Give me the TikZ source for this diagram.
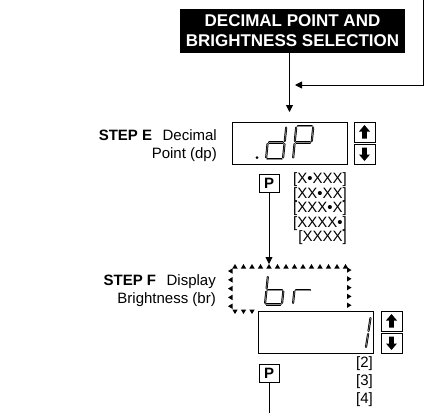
\documentclass[tikz,border=0pt]{standalone}
\usepackage{fontspec}
\setmainfont{Liberation Sans}
\usetikzlibrary{arrows.meta}
\begin{document}
\begin{tikzpicture}[x=1pt,y=-1pt,
  arr/.style={-{Triangle[length=7pt,width=7pt]}, line width=0.8pt},
  plain/.style={line width=0.8pt},
  dispbox/.style={draw, line width=0.8pt, minimum width=115pt, minimum height=42pt, inner sep=0pt, outer sep=0pt},
  btnbox/.style={draw, line width=0.8pt, minimum width=21pt, minimum height=20pt, inner sep=0pt, outer sep=0pt},
  pbox/.style={draw, line width=0.8pt, minimum width=20pt, minimum height=18pt, inner sep=0pt, outer sep=0pt, font=\fontsize{15}{15}\selectfont\bfseries},
  seg/.style={draw=black, double=black!45, double distance=0.6pt, line width=0.75pt, line cap=round},
  opt/.style={anchor=east, inner sep=0pt, font=\fontsize{15}{15}\selectfont},
  lbl/.style={anchor=east, align=right, inner sep=0pt, font=\fontsize{15}{18}\selectfont},
  banner/.style={fill=black, text=white, align=center, minimum width=225pt, minimum height=44pt, inner sep=0pt, outer sep=0pt, font=\fontsize{17}{20}\selectfont\bfseries},
  uparrow/.pic={\fill (-5.5,-0.5) -- (0,-7) -- (5.5,-0.5) -- (2.3,-0.5) -- (2.3,6.5) -- (-2.3,6.5) -- (-2.3,-0.5) -- cycle;},
  downarrow/.pic={\fill (-5.5,0.5) -- (0,7) -- (5.5,0.5) -- (2.3,0.5) -- (2.3,-6.5) -- (-2.3,-6.5) -- (-2.3,0.5) -- cycle;}
]
\useasboundingbox (0,0) rectangle (442,413);

% banner
\node[banner] (ban) at (292.5,31) {DECIMAL POINT AND\\BRIGHTNESS SELECTION};
\coordinate (feedtop) at (423,0);
\coordinate (join) at (295,85);
\draw[arr] (feedtop) |- (join);

% step E
\node[dispbox] (dp) at (289.5,143) {};
\draw[arr, shorten >=10pt] (dp.north |- ban.south) -- (dp.north);
\node[btnbox] (u1) at (364.5,132) {};
\node[btnbox] (d1) at (364.5,154) {};
\pic at (u1.center) {uparrow};
\pic at (d1.center) {downarrow};
\node[lbl] (lblE) at (217,146) {\textbf{STEP E}\hspace{0.7em}Decimal\\Point (dp)};

% .dP segments
\fill (257,157.5) circle (1.5);
\draw[seg] (286.2,127.5) -- (284.8,141);
\draw[seg] (284.5,144) -- (283.1,157.5);
\draw[seg] (267.5,159) -- (281.5,159);
\draw[seg] (267.5,144) -- (266.2,157.5);
\draw[seg] (269,142.5) -- (283,142.5);
\draw[seg] (297.8,126) -- (311.8,126);
\draw[seg] (313.2,127.5) -- (311.8,141);
\draw[seg] (296.2,127.5) -- (294.8,141);
\draw[seg] (294.5,144) -- (293.2,157.5);
\draw[seg] (296.2,142.5) -- (310.2,142.5);

\node[pbox] (p1) at (269,183) {P};
\node[opt] (o1) at (347,180) {[X•XXX]};
\node[opt] (o2) at (347,194.5) {[XX•XX]};
\node[opt] (o3) at (347,209) {[XXX•X]};
\node[opt] (o4) at (347,223.5) {[XXXX•]};
\node[opt] (o5) at (347,238) {[XXXX]};

% step F
\node[minimum width=118pt, minimum height=46pt, inner sep=0pt, outer sep=0pt] (brbox) at (290,287) {};
\draw[arr] (p1.south) -- (p1.south |- brbox.north);
\foreach \i in {0,...,13} {
  \fill ({235+8.5*\i-2.7},268.5) -- ({235+8.5*\i+2.7},268.5) -- ({235+8.5*\i},264) -- cycle;
}
\foreach \j in {0,...,4} {
  \fill (232.5,{271+8.8*\j-2.7}) -- (232.5,{271+8.8*\j+2.7}) -- (228,{271+8.8*\j}) -- cycle;
  \fill (347,{270+8.8*\j-2.7}) -- (347,{270+8.8*\j+2.7}) -- (351.5,{270+8.8*\j}) -- cycle;
}
\foreach \cx in {235,243.5,252} {
  \fill ({\cx-2.7},309.5) -- ({\cx+2.7},309.5) -- (\cx,314) -- cycle;
}
% br segments
\draw[seg] (267.8,277) -- (266.6,288.5);
\draw[seg] (266.3,291.5) -- (265.1,303);
\draw[seg] (266.5,304.5) -- (280.5,304.5);
\draw[seg] (283.3,291.5) -- (282.1,303);
\draw[seg] (268,290) -- (282,290);
\draw[seg] (294.3,291.5) -- (293.1,303);
\draw[seg] (296,290) -- (310,290);
\node[lbl] (lblF) at (216,291) {\textbf{STEP F}\hspace{0.7em}Display\\Brightness (br)};

\node[dispbox] (bri) at (315.5,332) {};
\node[btnbox] (u2) at (391.5,321) {};
\node[btnbox] (d2) at (391.5,343) {};
\pic at (u2.center) {uparrow};
\pic at (d2.center) {downarrow};
% digit 1
\draw[seg] (370.5,318) -- (368.5,331);
\draw[seg] (368.1,334) -- (366,347);

\node[opt] (v2) at (373,364) {[2]};
\node[opt] (v3) at (373,382) {[3]};
\node[opt] (v4) at (373,400) {[4]};
\node[pbox] (p2) at (269,373) {P};
\coordinate (exit) at (269,413);
\draw[plain] (p2.south) -- (exit);
\end{tikzpicture}
\end{document}
